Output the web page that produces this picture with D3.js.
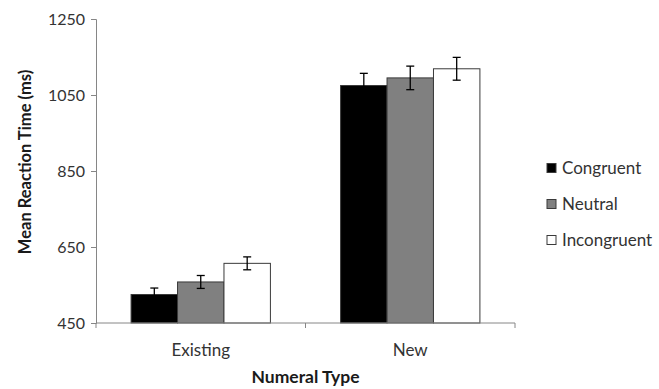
<!DOCTYPE html>
<html>
<head>
<meta charset="utf-8">
<script src="https://cdn.jsdelivr.net/npm/d3@7"></script>
<style>
  body { margin: 0; background: #fff; }
  text { font-family: Lato, "Open Sans", sans-serif; }
</style>
</head>
<body>
<svg id="chart" width="659" height="389"></svg>
<script>
// Mean reaction times (ms) by numeral type and condition
const categories = ["Existing", "New"];
const conditions = ["Congruent", "Neutral", "Incongruent"];
const congruent = [525, 1075];
const neutral = [558, 1095];
const incongruent = [607, 1119];
const congruentErr = [17, 32];
const neutralErr = [17, 31];
const incongruentErr = [17, 30];
const yTicks = [450, 650, 850, 1050, 1250];

const seriesValues = [congruent, neutral, incongruent];
const seriesErrors = [congruentErr, neutralErr, incongruentErr];
const fills = ["#000000", "#808080", "#ffffff"];

const svg = d3.select("#chart");
const margin = { left: 96, right: 144, top: 19, bottom: 66 };
const width = 659 - margin.left - margin.right;
const height = 389 - margin.top - margin.bottom;
const g = svg.append("g").attr("transform", `translate(${margin.left},${margin.top})`);

const x0 = d3.scaleBand().domain(categories).range([0, width]).paddingInner(0.335).paddingOuter(0.1675);
const x1 = d3.scaleBand().domain(conditions).range([0, x0.bandwidth()]);
const y = d3.scaleLinear().domain([450, 1250]).range([height, 0]);

// Rows of data: one entry per bar
const rows = [];
categories.forEach((c, i) => {
  conditions.forEach((s, j) => {
    rows.push({ cat: c, cond: s, value: seriesValues[j][i], err: seriesErrors[j][i], fill: fills[j] });
  });
});

// Bars
g.selectAll("rect.bar").data(rows).enter().append("rect")
  .attr("class", "bar")
  .attr("x", d => x0(d.cat) + x1(d.cond))
  .attr("y", d => y(d.value))
  .attr("width", x1.bandwidth())
  .attr("height", d => y(450) - y(d.value))
  .attr("fill", d => d.fill)
  .attr("stroke", "#3a3a3a")
  .attr("stroke-width", 1);

// Error bars
const cap = 4;
const cx = d => x0(d.cat) + x1(d.cond) + x1.bandwidth() / 2;
const eb = g.selectAll("g.err").data(rows).enter().append("g").attr("class", "err")
  .attr("stroke", "#000").attr("stroke-width", 1.3);
eb.append("line")
  .attr("x1", cx).attr("x2", cx)
  .attr("y1", d => y(d.value + d.err))
  .attr("y2", d => y(d.value - d.err));
eb.append("line")
  .attr("x1", d => cx(d) - cap).attr("x2", d => cx(d) + cap)
  .attr("y1", d => y(d.value + d.err))
  .attr("y2", d => y(d.value + d.err));
eb.append("line")
  .attr("x1", d => cx(d) - cap).attr("x2", d => cx(d) + cap)
  .attr("y1", d => y(d.value - d.err))
  .attr("y2", d => y(d.value - d.err));

// Y axis
const yAxis = g.append("g")
  .call(d3.axisLeft(y).tickValues(yTicks).tickSize(5).tickPadding(6).tickFormat(d3.format("d")));
yAxis.select(".domain").attr("stroke", "#868686");
yAxis.selectAll(".tick line").attr("stroke", "#868686");
yAxis.selectAll(".tick text").attr("fill", "#333").style("font-size", "16px");

// X axis: ticks at category boundaries
const xAxisG = g.append("g").attr("transform", `translate(0,${height})`);
xAxisG.append("line").attr("x1", 0).attr("x2", width).attr("stroke", "#868686");
const bounds = [0, width / 2, width];
xAxisG.selectAll("line.tk").data(bounds).enter().append("line").attr("class", "tk")
  .attr("x1", d => d).attr("x2", d => d).attr("y1", 0).attr("y2", 5).attr("stroke", "#868686");
xAxisG.selectAll("text.cat").data(categories).enter().append("text").attr("class", "cat")
  .attr("x", d => x0(d) + x0.bandwidth() / 2)
  .attr("y", 33)
  .attr("text-anchor", "middle")
  .attr("fill", "#333")
  .style("font-size", "17px")
  .text(d => d);

// Axis titles
svg.append("text")
  .attr("x", margin.left + width / 2)
  .attr("y", 383)
  .attr("text-anchor", "middle")
  .attr("font-weight", "bold")
  .attr("fill", "#1a1a1a")
  .style("font-size", "17.5px")
  .text("Numeral Type");
svg.append("text")
  .attr("transform", "translate(31,162) rotate(-90)")
  .attr("text-anchor", "middle")
  .attr("font-weight", "bold")
  .attr("fill", "#1a1a1a")
  .style("font-size", "16.5px")
  .text("Mean Reaction Time (ms)");

// Legend
const legend = svg.append("g").attr("transform", "translate(547,168)");
const items = legend.selectAll("g").data(conditions).enter().append("g")
  .attr("transform", (d, i) => `translate(0,${i * 36})`);
items.append("rect").attr("x", 0).attr("y", -4.5).attr("width", 9).attr("height", 9)
  .attr("fill", (d, i) => fills[i]).attr("stroke", "#3a3a3a").attr("stroke-width", 1);
items.append("text").attr("x", 15).attr("y", 0).attr("dy", "0.35em")
  .attr("fill", "#333").style("font-size", "17px").text(d => d);
</script>
</body>
</html>
